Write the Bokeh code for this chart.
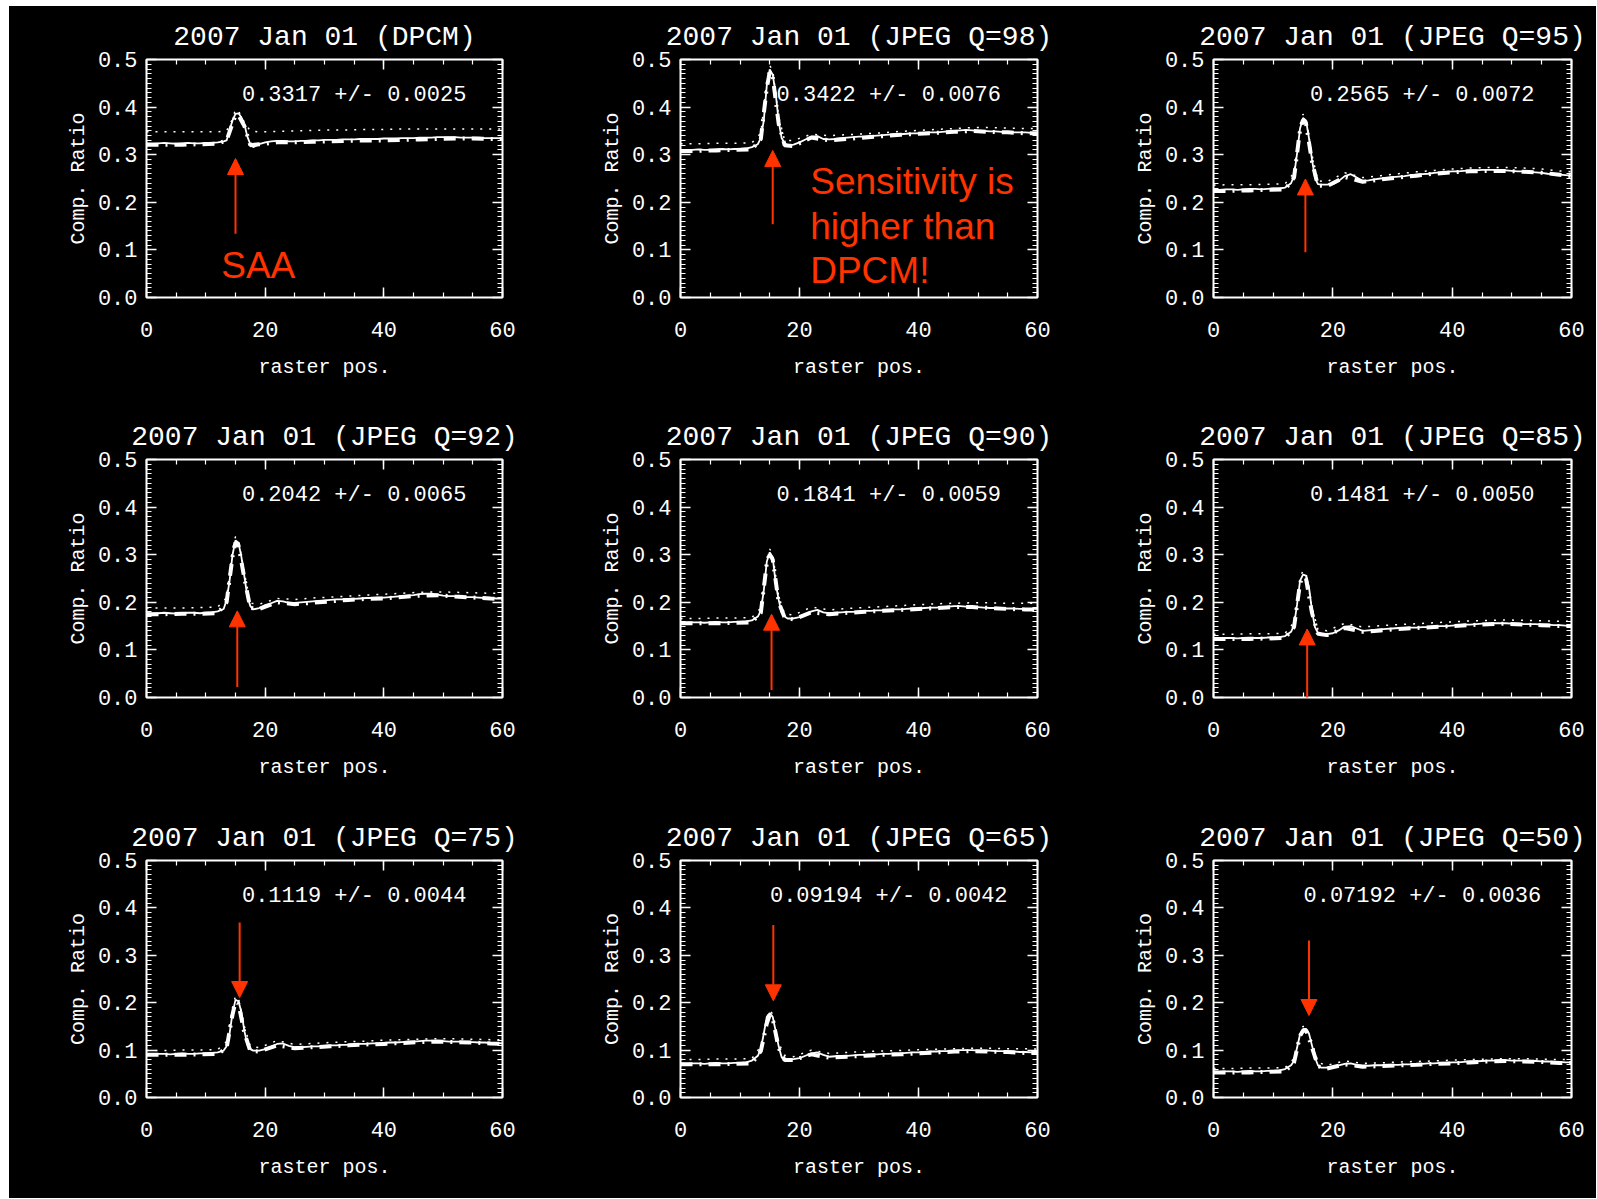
from bokeh.plotting import figure
from bokeh.layouts import gridplot, column, row, Spacer
from bokeh.models import (LinearAxis, SingleIntervalTicker, NumeralTickFormatter,
                          Range1d, Label, Arrow, NormalHead, ColumnDataSource)
from bokeh.embed import file_html
from bokeh.resources import INLINE

# ---------------- data ----------------
TITLES = ["2007 Jan 01 (DPCM)", "2007 Jan 01 (JPEG Q=98)", "2007 Jan 01 (JPEG Q=95)",
          "2007 Jan 01 (JPEG Q=92)", "2007 Jan 01 (JPEG Q=90)", "2007 Jan 01 (JPEG Q=85)",
          "2007 Jan 01 (JPEG Q=75)", "2007 Jan 01 (JPEG Q=65)", "2007 Jan 01 (JPEG Q=50)"]
STATS = ["0.3317 +/- 0.0025", "0.3422 +/- 0.0076", "0.2565 +/- 0.0072",
         "0.2042 +/- 0.0065", "0.1841 +/- 0.0059", "0.1481 +/- 0.0050",
         "0.1119 +/- 0.0044", "0.09194 +/- 0.0042", "0.07192 +/- 0.0036"]

X_LABEL = "raster pos."
Y_LABEL = "Comp. Ratio"

# raster positions of the solid curves
RASTER = list(range(0, 14)) + [13.5, 14, 14.5, 15, 15.5, 16, 16.5, 17, 17.5] + list(range(18, 61))
# raster positions of the dotted / dash-dot curves
RASTER_C = [0, 3, 6, 9, 12, 13.5, 14.5, 15, 15.5, 16.5, 17.5, 19, 22, 25, 28, 31, 34, 37, 40,
            43, 46, 49, 52, 55, 58, 60]

dpcm_solid = [0.324, 0.323, 0.324, 0.325, 0.324, 0.323, 0.324, 0.325, 0.324, 0.324, 0.325, 0.325, 0.326, 0.328,
              0.330, 0.352, 0.372, 0.386, 0.387, 0.378, 0.364, 0.338, 0.322,
              0.316, 0.322, 0.326, 0.328, 0.329, 0.329, 0.328, 0.328, 0.329, 0.329, 0.330, 0.330, 0.331, 0.331,
              0.331, 0.332, 0.332, 0.332, 0.333, 0.333, 0.333, 0.333, 0.334, 0.334, 0.334, 0.335, 0.335, 0.335,
              0.336, 0.336, 0.336, 0.337, 0.337, 0.337, 0.337, 0.336, 0.336, 0.336, 0.336, 0.335, 0.335, 0.335, 0.335]
dpcm_dot = [0.348, 0.348, 0.348, 0.348, 0.348, 0.350, 0.375, 0.395, 0.392, 0.368, 0.350, 0.348, 0.349,
            0.350, 0.351, 0.352, 0.352, 0.353, 0.353, 0.354, 0.354, 0.354, 0.354, 0.354, 0.354, 0.354]
dpcm_dash = [0.321, 0.321, 0.321, 0.322, 0.323, 0.330, 0.366, 0.382, 0.383, 0.360, 0.320, 0.322, 0.326,
             0.326, 0.327, 0.328, 0.329, 0.330, 0.330, 0.331, 0.332, 0.333, 0.334, 0.334, 0.333, 0.333]

q98_solid = [0.310, 0.309, 0.310, 0.311, 0.310, 0.310, 0.311, 0.312, 0.311, 0.312, 0.312, 0.313, 0.316, 0.322,
             0.335, 0.372, 0.445, 0.479, 0.468, 0.428, 0.370, 0.335, 0.324,
             0.320, 0.321, 0.326, 0.332, 0.338, 0.339, 0.333, 0.332, 0.333, 0.335, 0.336, 0.337, 0.338, 0.338,
             0.339, 0.340, 0.341, 0.342, 0.343, 0.343, 0.344, 0.345, 0.345, 0.346, 0.347, 0.347, 0.348, 0.349,
             0.350, 0.351, 0.352, 0.351, 0.350, 0.350, 0.349, 0.349, 0.348, 0.348, 0.347, 0.347, 0.347, 0.346, 0.346]
q98_dot = [0.323, 0.323, 0.324, 0.324, 0.325, 0.345, 0.455, 0.487, 0.478, 0.380, 0.330, 0.330, 0.343,
           0.340, 0.342, 0.344, 0.346, 0.349, 0.351, 0.353, 0.355, 0.357, 0.357, 0.356, 0.355, 0.355]
q98_dash = [0.308, 0.308, 0.309, 0.310, 0.311, 0.333, 0.440, 0.474, 0.464, 0.365, 0.320, 0.318, 0.336,
            0.330, 0.333, 0.336, 0.339, 0.342, 0.344, 0.346, 0.348, 0.350, 0.348, 0.347, 0.345, 0.345]

q95_solid = [0.226, 0.226, 0.227, 0.227, 0.226, 0.227, 0.228, 0.228, 0.227, 0.228, 0.229, 0.229, 0.231, 0.240,
             0.256, 0.302, 0.355, 0.377, 0.372, 0.335, 0.290, 0.252, 0.238,
             0.237, 0.237, 0.238, 0.245, 0.255, 0.259, 0.252, 0.245, 0.246, 0.248, 0.250, 0.251, 0.253, 0.254,
             0.255, 0.257, 0.258, 0.259, 0.260, 0.262, 0.263, 0.264, 0.265, 0.265, 0.266, 0.267, 0.267, 0.268,
             0.268, 0.268, 0.268, 0.267, 0.266, 0.265, 0.265, 0.264, 0.263, 0.262, 0.260, 0.259, 0.258, 0.257, 0.256]
q95_dot = [0.236, 0.237, 0.237, 0.238, 0.239, 0.262, 0.362, 0.385, 0.378, 0.300, 0.245, 0.243, 0.262,
           0.252, 0.256, 0.260, 0.264, 0.267, 0.270, 0.272, 0.273, 0.273, 0.272, 0.270, 0.266, 0.264]
q95_dash = [0.224, 0.224, 0.225, 0.226, 0.227, 0.252, 0.352, 0.373, 0.366, 0.286, 0.235, 0.234, 0.253,
            0.243, 0.248, 0.252, 0.256, 0.260, 0.263, 0.265, 0.266, 0.266, 0.264, 0.262, 0.258, 0.255]

q92_solid = [0.177, 0.176, 0.177, 0.178, 0.177, 0.176, 0.177, 0.178, 0.178, 0.177, 0.178, 0.179, 0.181, 0.186,
             0.205, 0.245, 0.300, 0.330, 0.325, 0.295, 0.254, 0.212, 0.192,
             0.185, 0.188, 0.194, 0.198, 0.203, 0.202, 0.199, 0.199, 0.200, 0.201, 0.202, 0.203, 0.204, 0.205,
             0.206, 0.206, 0.207, 0.207, 0.208, 0.209, 0.209, 0.210, 0.210, 0.211, 0.212, 0.213, 0.214, 0.215,
             0.217, 0.218, 0.218, 0.216, 0.214, 0.213, 0.213, 0.212, 0.211, 0.211, 0.210, 0.209, 0.209, 0.208, 0.208]
q92_dot = [0.188, 0.188, 0.188, 0.189, 0.190, 0.210, 0.310, 0.338, 0.332, 0.262, 0.198, 0.196, 0.208,
           0.206, 0.209, 0.211, 0.213, 0.215, 0.217, 0.219, 0.221, 0.222, 0.221, 0.220, 0.219, 0.219]
q92_dash = [0.175, 0.175, 0.176, 0.176, 0.177, 0.200, 0.296, 0.326, 0.320, 0.250, 0.188, 0.186, 0.200,
            0.196, 0.199, 0.202, 0.205, 0.207, 0.208, 0.211, 0.214, 0.215, 0.212, 0.210, 0.208, 0.207]

q90_solid = [0.158, 0.157, 0.158, 0.158, 0.157, 0.158, 0.159, 0.158, 0.158, 0.159, 0.159, 0.160, 0.162, 0.170,
             0.182, 0.225, 0.285, 0.305, 0.294, 0.240, 0.205, 0.178, 0.170,
             0.166, 0.166, 0.169, 0.174, 0.181, 0.184, 0.179, 0.177, 0.178, 0.179, 0.180, 0.180, 0.181, 0.182,
             0.182, 0.183, 0.183, 0.184, 0.185, 0.185, 0.186, 0.187, 0.187, 0.188, 0.189, 0.189, 0.190, 0.191,
             0.192, 0.192, 0.191, 0.190, 0.190, 0.189, 0.188, 0.188, 0.187, 0.187, 0.187, 0.186, 0.186, 0.186, 0.186]
q90_dot = [0.166, 0.166, 0.167, 0.167, 0.168, 0.188, 0.292, 0.312, 0.300, 0.212, 0.176, 0.173, 0.190,
           0.184, 0.187, 0.189, 0.191, 0.193, 0.195, 0.197, 0.198, 0.199, 0.199, 0.198, 0.198, 0.198]
q90_dash = [0.156, 0.156, 0.156, 0.157, 0.158, 0.178, 0.282, 0.300, 0.290, 0.200, 0.168, 0.164, 0.179,
            0.175, 0.178, 0.180, 0.182, 0.184, 0.186, 0.188, 0.190, 0.190, 0.188, 0.186, 0.185, 0.185]

q85_solid = [0.125, 0.124, 0.125, 0.125, 0.124, 0.125, 0.126, 0.125, 0.125, 0.126, 0.126, 0.127, 0.129, 0.138,
             0.152, 0.195, 0.245, 0.258, 0.256, 0.232, 0.183, 0.148, 0.136,
             0.134, 0.133, 0.135, 0.141, 0.149, 0.150, 0.145, 0.140, 0.141, 0.142, 0.143, 0.144, 0.145, 0.146,
             0.146, 0.147, 0.147, 0.148, 0.148, 0.149, 0.150, 0.150, 0.151, 0.152, 0.153, 0.153, 0.154, 0.155,
             0.155, 0.156, 0.156, 0.156, 0.155, 0.155, 0.154, 0.154, 0.154, 0.153, 0.153, 0.152, 0.152, 0.151, 0.151]
q85_dot = [0.133, 0.133, 0.134, 0.134, 0.135, 0.158, 0.252, 0.266, 0.262, 0.190, 0.143, 0.140, 0.156,
           0.148, 0.151, 0.153, 0.155, 0.157, 0.159, 0.161, 0.162, 0.163, 0.162, 0.161, 0.160, 0.160]
q85_dash = [0.123, 0.123, 0.123, 0.124, 0.125, 0.148, 0.240, 0.254, 0.250, 0.178, 0.134, 0.131, 0.146,
            0.138, 0.141, 0.144, 0.146, 0.148, 0.150, 0.152, 0.154, 0.155, 0.153, 0.152, 0.150, 0.150]

q75_solid = [0.092, 0.091, 0.092, 0.092, 0.091, 0.092, 0.093, 0.092, 0.092, 0.093, 0.093, 0.094, 0.095, 0.099,
             0.108, 0.135, 0.178, 0.206, 0.203, 0.180, 0.140, 0.112, 0.102,
             0.099, 0.099, 0.102, 0.107, 0.113, 0.114, 0.109, 0.106, 0.106, 0.107, 0.108, 0.108, 0.109, 0.110,
             0.110, 0.111, 0.111, 0.112, 0.113, 0.113, 0.114, 0.114, 0.115, 0.116, 0.116, 0.117, 0.118, 0.118,
             0.119, 0.120, 0.120, 0.119, 0.119, 0.118, 0.118, 0.118, 0.117, 0.117, 0.116, 0.116, 0.115, 0.115, 0.114]
q75_dot = [0.099, 0.099, 0.100, 0.100, 0.101, 0.118, 0.190, 0.214, 0.210, 0.150, 0.108, 0.105, 0.120,
           0.112, 0.114, 0.116, 0.118, 0.119, 0.121, 0.122, 0.123, 0.124, 0.124, 0.123, 0.122, 0.122]
q75_dash = [0.090, 0.090, 0.090, 0.091, 0.092, 0.104, 0.175, 0.202, 0.198, 0.136, 0.098, 0.097, 0.110,
            0.104, 0.106, 0.108, 0.110, 0.112, 0.113, 0.115, 0.117, 0.118, 0.117, 0.116, 0.114, 0.113]

q65_solid = [0.072, 0.071, 0.072, 0.072, 0.071, 0.072, 0.073, 0.072, 0.072, 0.073, 0.073, 0.074, 0.078, 0.088,
             0.102, 0.135, 0.170, 0.178, 0.170, 0.140, 0.108, 0.085, 0.081,
             0.080, 0.081, 0.083, 0.088, 0.093, 0.095, 0.090, 0.086, 0.087, 0.088, 0.088, 0.089, 0.090, 0.090,
             0.091, 0.091, 0.092, 0.092, 0.093, 0.093, 0.094, 0.095, 0.095, 0.096, 0.097, 0.097, 0.098, 0.098,
             0.099, 0.100, 0.100, 0.100, 0.099, 0.099, 0.099, 0.098, 0.098, 0.097, 0.097, 0.096, 0.096, 0.095, 0.095]
q65_dot = [0.080, 0.080, 0.081, 0.081, 0.082, 0.108, 0.165, 0.184, 0.176, 0.115, 0.089, 0.086, 0.100,
           0.093, 0.095, 0.097, 0.098, 0.099, 0.101, 0.102, 0.103, 0.104, 0.104, 0.103, 0.103, 0.102]
q65_dash = [0.070, 0.070, 0.070, 0.071, 0.072, 0.098, 0.156, 0.174, 0.166, 0.104, 0.079, 0.079, 0.091,
            0.084, 0.086, 0.088, 0.090, 0.091, 0.093, 0.095, 0.097, 0.098, 0.097, 0.096, 0.094, 0.094]

q50_solid = [0.055, 0.054, 0.055, 0.055, 0.054, 0.055, 0.056, 0.055, 0.055, 0.056, 0.056, 0.057, 0.060, 0.068,
             0.077, 0.105, 0.133, 0.144, 0.145, 0.135, 0.110, 0.085, 0.068,
             0.063, 0.063, 0.065, 0.068, 0.071, 0.072, 0.069, 0.067, 0.067, 0.068, 0.068, 0.068, 0.069, 0.069,
             0.070, 0.070, 0.071, 0.071, 0.072, 0.072, 0.073, 0.073, 0.074, 0.074, 0.075, 0.076, 0.076, 0.077,
             0.078, 0.078, 0.079, 0.079, 0.078, 0.078, 0.078, 0.077, 0.077, 0.076, 0.076, 0.075, 0.075, 0.074, 0.074]
q50_dot = [0.061, 0.061, 0.062, 0.062, 0.063, 0.082, 0.138, 0.150, 0.150, 0.118, 0.074, 0.068, 0.077,
           0.072, 0.073, 0.075, 0.076, 0.077, 0.079, 0.080, 0.081, 0.082, 0.082, 0.081, 0.080, 0.080]
q50_dash = [0.053, 0.053, 0.053, 0.054, 0.055, 0.074, 0.130, 0.141, 0.142, 0.106, 0.066, 0.061, 0.070,
            0.065, 0.066, 0.068, 0.069, 0.071, 0.072, 0.074, 0.076, 0.077, 0.076, 0.075, 0.073, 0.073]

SOLID = [dpcm_solid, q98_solid, q95_solid, q92_solid, q90_solid, q85_solid, q75_solid, q65_solid, q50_solid]
DOTTED = [dpcm_dot, q98_dot, q95_dot, q92_dot, q90_dot, q85_dot, q75_dot, q65_dot, q50_dot]
DASHED = [dpcm_dash, q98_dash, q95_dash, q92_dash, q90_dash, q85_dash, q75_dash, q65_dash, q50_dash]

# red arrows marking the SAA peak (x, tail y, tip y)
ARROW_X = [15.0, 15.5, 15.4, 15.3, 15.3, 15.7, 15.7, 15.6, 16.0]
ARROW_TAIL = [0.134, 0.154, 0.095, 0.022, 0.016, -0.017, 0.369, 0.364, 0.331]
ARROW_TIP = [0.292, 0.309, 0.249, 0.182, 0.175, 0.144, 0.211, 0.204, 0.173]

SAA_TEXT = "SAA"
NOTE_LINES = ["Sensitivity is", "higher than", "DPCM!"]

# ---------------- styling / layout ----------------
RED = "#ff3300"
FG = "white"
MONO = "Liberation Mono"
COL_W = [534, 533, 520]
COL_BR = [41, 39, 25]
ROW_H = [400, 401, 391]
ROW_BB = [109, 110, 101]
BL, BT = 137, 53


def style_axis(ax, show_labels):
    ax.axis_line_color = None
    ax.major_tick_line_color = FG
    ax.minor_tick_line_color = FG
    ax.major_tick_line_width = 1.5
    ax.minor_tick_line_width = 1.2
    ax.major_tick_out = 0
    ax.minor_tick_out = 0
    ax.major_tick_in = 10
    ax.minor_tick_in = 5
    if show_labels:
        ax.major_label_text_font = MONO
        ax.major_label_text_font_size = "22px"
        ax.major_label_text_color = FG
        ax.axis_label_text_font = MONO
        ax.axis_label_text_font_size = "20px"
        ax.axis_label_text_font_style = "normal"
        ax.axis_label_text_color = FG
    else:
        ax.major_label_text_font_size = "0px"
        ax.major_label_text_color = None
        ax.major_label_standoff = 0


def make_panel(i):
    r, c = divmod(i, 3)
    p = figure(width=COL_W[c], height=ROW_H[r], x_range=Range1d(0, 60), y_range=Range1d(0, 0.5),
               output_backend="svg", toolbar_location=None, x_axis_type=None, y_axis_type=None,
               min_border_left=BL, min_border_right=COL_BR[c], min_border_top=BT,
               min_border_bottom=ROW_BB[r], background_fill_color="black", border_fill_color="black",
               outline_line_color=FG, outline_line_width=2, title=TITLES[i])
    p.title.text_font = MONO
    p.title.text_font_size = "28px"
    p.title.text_font_style = "normal"
    p.title.text_color = FG
    p.title.align = "center"
    p.title.standoff = 14

    xb = LinearAxis(ticker=SingleIntervalTicker(interval=20, num_minor_ticks=4), axis_label=X_LABEL)
    style_axis(xb, True)
    xb.major_label_standoff = 24
    xb.axis_label_standoff = 16
    p.add_layout(xb, "below")
    xt = LinearAxis(ticker=SingleIntervalTicker(interval=20, num_minor_ticks=4))
    style_axis(xt, False)
    p.add_layout(xt, "above")

    yl = LinearAxis(ticker=SingleIntervalTicker(interval=0.1, num_minor_ticks=10),
                    formatter=NumeralTickFormatter(format="0.0"), axis_label=Y_LABEL)
    style_axis(yl, True)
    yl.major_label_standoff = 9
    yl.axis_label_standoff = 5
    p.add_layout(yl, "left")
    yr = LinearAxis(ticker=SingleIntervalTicker(interval=0.1, num_minor_ticks=10))
    style_axis(yr, False)
    p.add_layout(yr, "right")

    src_c = ColumnDataSource(dict(x=RASTER_C, dash=DASHED[i], dot=DOTTED[i]))
    src_s = ColumnDataSource(dict(x=RASTER, y=SOLID[i]))
    p.line("x", "dash", source=src_c, line_color=FG, line_width=4, line_dash="12 7 2 7")
    p.line("x", "dot", source=src_c, line_color=FG, line_width=1.5, line_dash="2 7")
    p.line("x", "y", source=src_s, line_color=FG, line_width=1.8)

    p.add_layout(Label(x=35, y=0.425, text=STATS[i], text_align="center", text_baseline="middle",
                       text_font=MONO, text_font_size="22px", text_color=FG))

    p.add_layout(Arrow(end=NormalHead(size=16, fill_color=RED, line_color=RED),
                       x_start=ARROW_X[i], y_start=ARROW_TAIL[i], x_end=ARROW_X[i], y_end=ARROW_TIP[i],
                       line_color=RED, line_width=2))
    if i == 0:
        p.add_layout(Label(x=12.6, y=0.067, text=SAA_TEXT, text_baseline="alphabetic",
                           text_font="Liberation Sans", text_font_size="37px", text_color=RED))
    if i == 1:
        for t, yy in zip(NOTE_LINES, [0.244, 0.150, 0.057]):
            p.add_layout(Label(x=21.8, y=yy, text=t, text_baseline="alphabetic",
                               text_font="Liberation Sans", text_font_size="37px", text_color=RED))
    return p


panels = [make_panel(i) for i in range(9)]
grid = gridplot([panels[0:3], panels[3:6], panels[6:9]], toolbar_location=None)
grid.styles = {"background-color": "black"}
page = column(Spacer(height=6, width=10), row(Spacer(width=9, height=10), grid))

open("out.html", "w").write(file_html(page, INLINE))
